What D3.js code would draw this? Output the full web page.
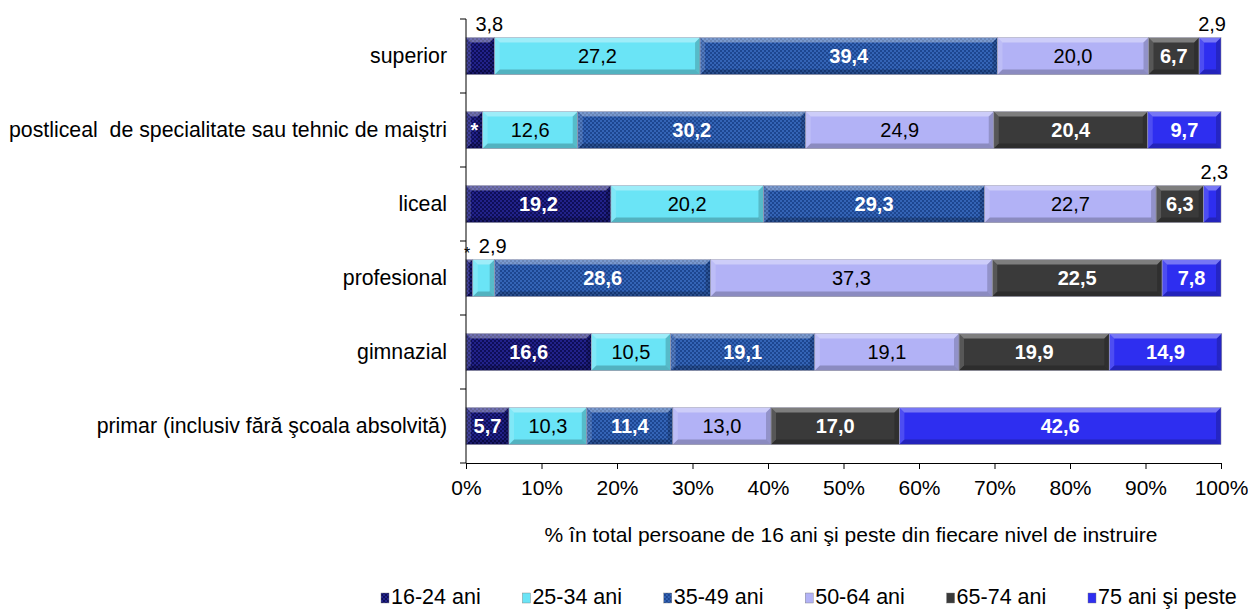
<!DOCTYPE html>
<html>
<head>
<meta charset="utf-8">
<script src="https://cdn.jsdelivr.net/npm/d3@7"></script>
<style>
  body { margin: 0; background: #fff; }
  svg { font-family: "Liberation Sans", Arial, sans-serif; }
</style>
</head>
<body>
<div id="chart"></div>
<script>
// categories (top to bottom) and age groups
const categories = [
    "superior",
    "postliceal  de specialitate sau tehnic de maiştri",
    "liceal",
    "profesional",
    "gimnazial",
    "primar (inclusiv fără şcoala absolvită)"
];
const series = ["16-24 ani", "25-34 ani", "35-49 ani", "50-64 ani", "65-74 ani", "75 ani şi peste"];

// values per age group, one entry per category (same order as categories)
const v1624 = [3.8, 2.2, 19.2, 0.9, 16.6, 5.7];
const v2534 = [27.2, 12.6, 20.2, 2.9, 10.5, 10.3];
const v3549 = [39.4, 30.2, 29.3, 28.6, 19.1, 11.4];
const v5064 = [20.0, 24.9, 22.7, 37.3, 19.1, 13.0];
const v6574 = [6.7, 20.4, 6.3, 22.5, 19.9, 17.0];
const v75 = [2.9, 9.7, 2.3, 7.8, 14.9, 42.6];
// estimates not published (shown as *)
const starred = [[1, 0], [3, 0]];

const xTicks = [0, 10, 20, 30, 40, 50, 60, 70, 80, 90, 100];
const xTitle = "% în total persoane de 16 ani şi peste din fiecare nivel de instruire";

const allValues = [v1624, v2534, v3549, v5064, v6574, v75];
const colors = ["#14146a", "#6ae4f6", "#24529e", "#b2b2f6", "#3a3a3a", "#2e2ef0"];
const darkSeries = [true, false, true, false, true, true];

const W = 1248, H = 609;
const svg = d3.select("#chart").append("svg").attr("width", W).attr("height", H);

const defs = svg.append("defs");
// checker textures for two of the series
function checker(id, base, dot) {
    const p = defs.append("pattern").attr("id", id)
        .attr("width", 4).attr("height", 4).attr("patternUnits", "userSpaceOnUse");
    p.append("rect").attr("width", 4).attr("height", 4).attr("fill", base);
    p.append("rect").attr("width", 2).attr("height", 2).attr("fill", dot);
    p.append("rect").attr("x", 2).attr("y", 2).attr("width", 2).attr("height", 2).attr("fill", dot);
}
checker("pat0", "#0e0e58", "#22228a");
checker("pat2", "#1d4690", "#3464b6");
const fills = colors.map((c, i) => i === 0 ? "url(#pat0)" : i === 2 ? "url(#pat2)" : c);

const x = d3.scaleLinear().domain([0, 100]).range([466, 1221]);
const y = d3.scaleBand().domain(categories).range([19, 463]).paddingInner(0.5).paddingOuter(0.25);

// stacked rows
const rows = categories.map((c, ci) => {
    let acc = 0;
    return series.map((s, si) => {
        const v = allValues[si][ci];
        const seg = { cat: c, ci, si, v, x0: acc, x1: acc + v,
            star: starred.some(d => d[0] === ci && d[1] === si) };
        acc += v;
        return seg;
    });
});
const segs = rows.flat();

const bh = y.bandwidth();
const g = svg.append("g");
const seg = g.selectAll("g.seg").data(segs).enter().append("g").attr("class", "seg");

seg.append("rect")
    .attr("x", d => x(d.x0))
    .attr("y", d => y(d.cat))
    .attr("width", d => Math.max(0, x(d.x1) - x(d.x0)))
    .attr("height", bh)
    .attr("fill", d => fills[d.si])
    .attr("stroke", "#9a9ab0")
    .attr("stroke-width", 0.6);

// bevel edges
seg.each(function(d) {
    const x0 = x(d.x0), x1 = x(d.x1), y0 = y(d.cat), y1 = y0 + bh;
    const b = Math.min(5, (x1 - x0) / 2);
    const sel = d3.select(this);
    const poly = (pts, fill) => sel.append("polygon")
        .attr("points", pts.map(p => p.join(",")).join(" ")).attr("fill", fill);
    poly([[x0, y0], [x1, y0], [x1 - b, y0 + b], [x0 + b, y0 + b]], "rgba(255,255,255,0.35)");
    poly([[x0, y1], [x1, y1], [x1 - b, y1 - b], [x0 + b, y1 - b]], "rgba(0,0,0,0.22)");
    poly([[x0, y0], [x0 + b, y0 + b], [x0 + b, y1 - b], [x0, y1]], "rgba(255,255,255,0.15)");
    poly([[x1, y0], [x1 - b, y0 + b], [x1 - b, y1 - b], [x1, y1]], "rgba(0,0,0,0.18)");
});

const fmt = v => d3.format(".1f")(v).replace(".", ",");

// value labels
segs.forEach(d => {
    const w = x(d.x1) - x(d.x0);
    const cx = (x(d.x0) + x(d.x1)) / 2;
    const text = d.star ? "*" : fmt(d.v);
    const inside = d.star ? w > 10 : d.v >= 4;
    if (inside) {
        g.append("text")
            .attr("x", cx).attr("y", y(d.cat) + bh / 2 + 7)
            .attr("text-anchor", "middle")
            .attr("font-size", 20)
            .attr("font-weight", darkSeries[d.si] ? "bold" : "normal")
            .attr("fill", darkSeries[d.si] ? "#fff" : "#000")
            .text(text);
    } else if (d.star) {
        g.append("text")
            .attr("x", x(d.x0) + 1).attr("y", y(d.cat) - 1)
            .attr("text-anchor", "middle")
            .attr("font-size", 16)
            .text(text);
    } else {
        const lx = Math.min(cx + (d.si === 5 ? 2 : 9), 1226);
        g.append("text")
            .attr("x", lx).attr("y", y(d.cat) - 7)
            .attr("text-anchor", "middle")
            .attr("font-size", 20)
            .attr("fill", "#000")
            .text(text);
    }
});

// y axis
const yAxis = g.append("g").attr("transform", "translate(466,0)");
yAxis.append("line").attr("y1", 19).attr("y2", 463).attr("stroke", "#000");
d3.range(categories.length + 1).forEach(i => {
    const yy = 19 + i * y.step();
    yAxis.append("line").attr("x1", -6).attr("x2", 0).attr("y1", yy).attr("y2", yy).attr("stroke", "#000");
});
categories.forEach(c => {
    g.append("text")
        .attr("x", 447).attr("y", y(c) + bh / 2 + 7)
        .attr("text-anchor", "end")
        .attr("font-size", 21.3)
        .attr("fill", "#000")
        .style("white-space", "pre")
        .text(c);
});

// x axis
const xAxis = g.append("g").attr("transform", "translate(0,463)")
    .call(d3.axisBottom(x).tickValues(xTicks).tickFormat(d => d + "%").tickSize(6).tickPadding(11));
xAxis.select(".domain").attr("stroke", "#000");
xAxis.selectAll(".tick line").attr("stroke", "#000");
xAxis.selectAll("text").attr("font-size", 21).attr("fill", "#000")
    .attr("font-family", "'Liberation Sans', Arial, sans-serif");

svg.append("text")
    .attr("x", 851).attr("y", 542)
    .attr("text-anchor", "middle")
    .attr("font-size", 21)
    .text(xTitle);

// legend
const legend = svg.append("g").attr("transform", "translate(381,0)");
series.forEach((s, i) => {
    const lg = legend.append("g").attr("transform", "translate(" + (i * 141.4) + ",0)");
    lg.append("rect").attr("x", 0).attr("y", 593).attr("width", 8).attr("height", 10)
        .attr("fill", fills[i]).attr("stroke", "#777").attr("stroke-width", 0.4);
    lg.append("text").attr("x", 10).attr("y", 603.5)
        .attr("font-size", 21.5)
        .text(s);
});
</script>
</body>
</html>
